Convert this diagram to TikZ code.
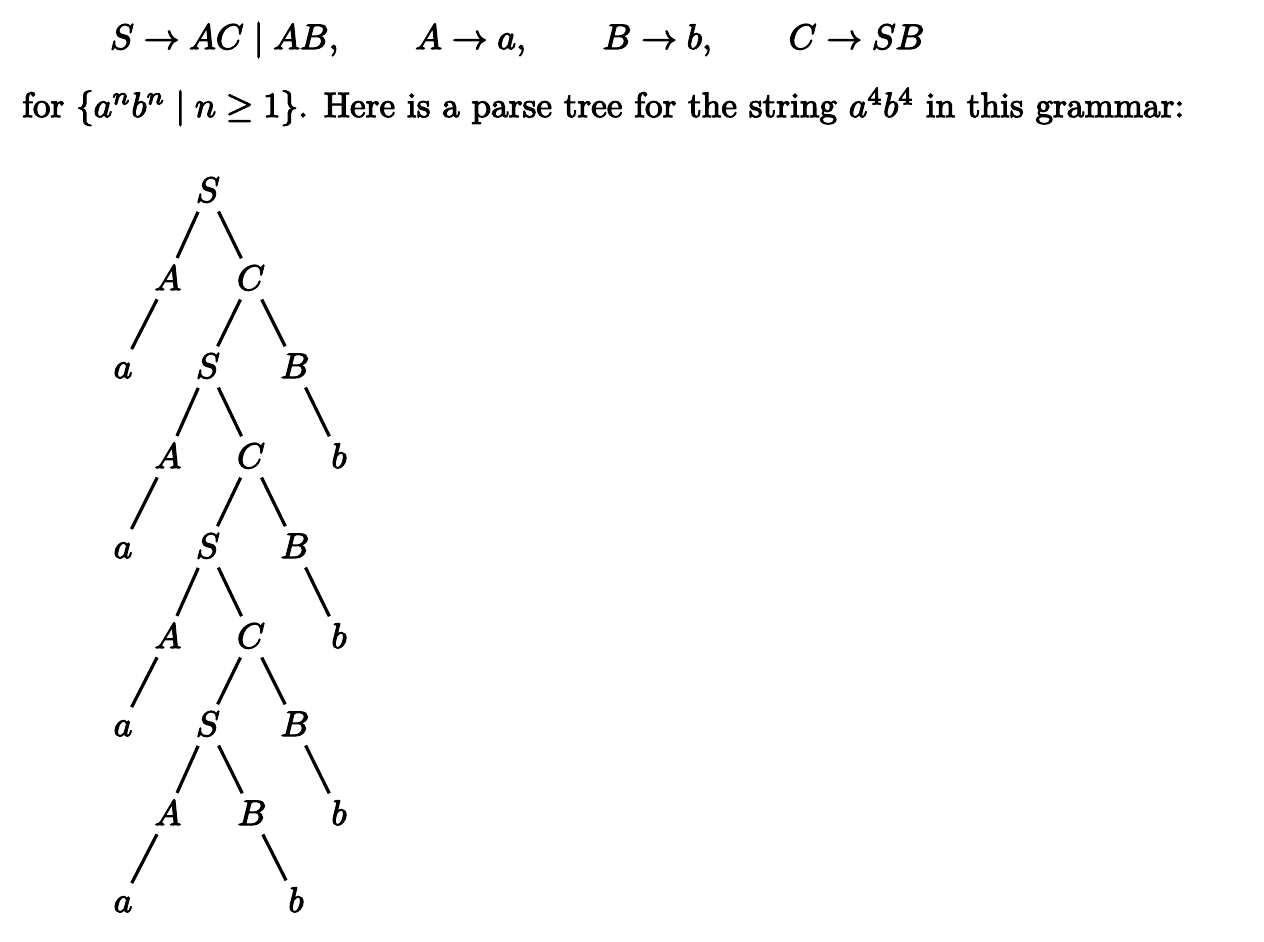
\documentclass[tikz,border=0pt]{standalone}
\usepackage{graphicx}
\newcommand{\inkb}{\special{pdf:literal direct 2 Tr}}
\newcommand{\inke}{\special{pdf:literal direct 0 Tr}}
\newcommand{\mysc}[1]{\scalebox{3.55}{\inkb #1\inke}}
\newcommand{\mysctwo}[1]{\scalebox{3.52}{\inkb #1\inke}}
\tikzset{
  txt/.style={inner sep=0pt, anchor=base west, line width=0.32pt},
  tn/.style={inner sep=0pt, anchor=base, text height=24pt, text depth=0pt, line width=0.32pt},
  br/.style={line width=3.2pt, shorten <=24pt, shorten >=22pt},
  brlow/.style={line width=3.2pt, shorten <=24pt, shorten >=19pt}
}
\begin{document}
\begin{tikzpicture}[x=1pt,y=-1pt]
\useasboundingbox (0,0) rectangle (1264,942);
\node[txt] (l1) at (110,49) {\mysc{$S \to AC \mid AB, \qquad A \to a, \qquad B \to b, \qquad C \to SB$}};
\node[txt] (l2) at (22,117) {\mysctwo{for $\{a^nb^n \mid n \ge 1\}$. Here is a parse tree for the string $a^4b^4$ in this grammar:}};
% row 1
\node[tn] (s1) at (208,202) {\mysc{$S$}};
% row 2
\node[tn] (a2) at (168,290) {\mysc{$A$}};
\node[tn] (c2) at (251,290) {\mysc{$C$}};
% row 3
\node[tn] (x3) at (123,378) {\mysc{$a$}};
\node[tn] (s3) at (208,378) {\mysc{$S$}};
\node[tn] (b3) at (295,378) {\mysc{$B$}};
% row 4
\node[tn] (a4) at (168,468) {\mysc{$A$}};
\node[tn] (c4) at (251,468) {\mysc{$C$}};
\node[tn] (y4) at (339,468) {\mysc{$b$}};
% row 5
\node[tn] (x5) at (123,558) {\mysc{$a$}};
\node[tn] (s5) at (208,558) {\mysc{$S$}};
\node[tn] (b5) at (295,558) {\mysc{$B$}};
% row 6
\node[tn] (a6) at (168,648) {\mysc{$A$}};
\node[tn] (c6) at (251,648) {\mysc{$C$}};
\node[tn] (y6) at (339,648) {\mysc{$b$}};
% row 7
\node[tn] (x7) at (123,736) {\mysc{$a$}};
\node[tn] (s7) at (208,736) {\mysc{$S$}};
\node[tn] (b7) at (295,736) {\mysc{$B$}};
% row 8
\node[tn] (a8) at (168,825) {\mysc{$A$}};
\node[tn] (bb8) at (252,825) {\mysc{$B$}};
\node[tn] (y8) at (339,825) {\mysc{$b$}};
% row 9
\node[tn] (x9) at (123,912) {\mysc{$a$}};
\node[tn] (y9) at (296,912) {\mysc{$b$}};
% edges
\draw[br] (s1.center) -- (a2.center);
\draw[br] (s1.center) -- (c2.center);
\draw[brlow] (a2.center) -- (x3.center);
\draw[br] (c2.center) -- (s3.center);
\draw[br] (c2.center) -- (b3.center);
\draw[br] (b3.center) -- (y4.center);
\draw[br] (s3.center) -- (a4.center);
\draw[br] (s3.center) -- (c4.center);
\draw[brlow] (a4.center) -- (x5.center);
\draw[br] (c4.center) -- (s5.center);
\draw[br] (c4.center) -- (b5.center);
\draw[br] (b5.center) -- (y6.center);
\draw[br] (s5.center) -- (a6.center);
\draw[br] (s5.center) -- (c6.center);
\draw[brlow] (a6.center) -- (x7.center);
\draw[br] (c6.center) -- (s7.center);
\draw[br] (c6.center) -- (b7.center);
\draw[br] (b7.center) -- (y8.center);
\draw[br] (s7.center) -- (a8.center);
\draw[br] (s7.center) -- (bb8.center);
\draw[brlow] (a8.center) -- (x9.center);
\draw[br] (bb8.center) -- (y9.center);
\end{tikzpicture}
\end{document}
